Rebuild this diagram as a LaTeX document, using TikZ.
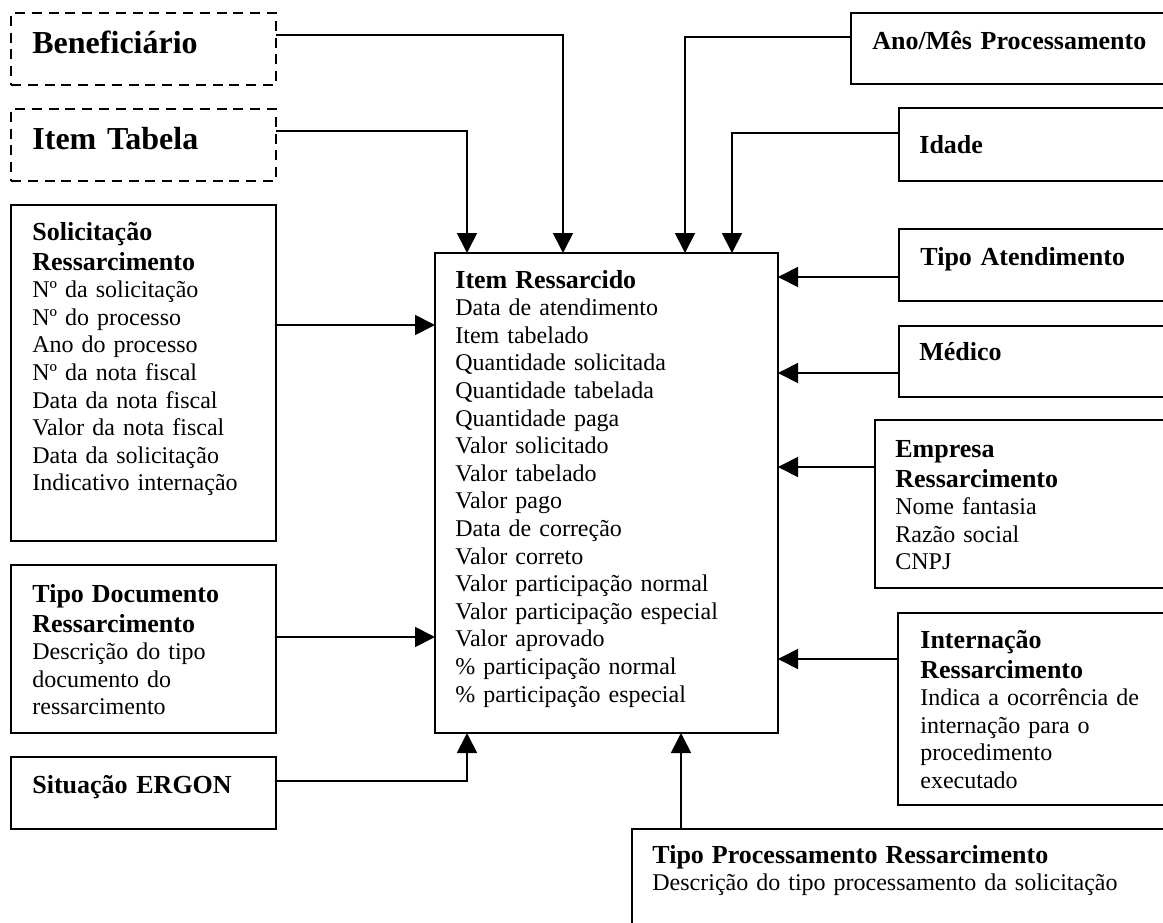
\documentclass[tikz,border=0pt]{standalone}
\usepackage{fontspec}
\setmainfont{Liberation Serif}
\usetikzlibrary{arrows.meta}

\newcommand\bodyfs{\fontsize{12}{13.8}\selectfont}
\newcommand\headfs{\fontsize{13}{15}\selectfont\bfseries}
\newcommand\bigheadfs{\fontsize{16}{18.4}\selectfont\bfseries}

\tikzset{
  box/.style={draw, line width=0.9pt, anchor=north west, inner sep=0pt, outer sep=0pt},
  dashbox/.style={box, dash pattern=on 5pt off 3.4pt},
  txt/.style={anchor=base west, inner sep=0pt, text width=320pt, align=left, font=\bodyfs},
  conn/.style={line width=0.9pt, -{Triangle[length=10pt,width=10pt]}}
}

\begin{document}
\begin{tikzpicture}[x=0.5pt,y=-0.5pt]
\useasboundingbox (0,0) rectangle (1163,922);
\clip (0,0) rectangle (1163,922);

% boxes on the left
\node[dashbox, minimum width=132.5pt, minimum height=36pt] (benef) at (11,13) {};
\node[dashbox, minimum width=132.5pt, minimum height=36pt] (itemtab) at (11,109) {};
\node[box, minimum width=132.5pt, minimum height=168pt] (solic) at (11,205) {};
\node[box, minimum width=132.5pt, minimum height=84pt] (tipodoc) at (11,565) {};
\node[box, minimum width=132.5pt, minimum height=36pt] (situacao) at (11,757) {};

% central entity
\node[box, minimum width=171.5pt, minimum height=240pt] (main) at (435,253) {};

% boxes on the right
\node[box, minimum width=200pt, minimum height=35.5pt] (anomes) at (851,13) {};
\node[box, minimum width=200pt, minimum height=36.5pt] (idade) at (899,108) {};
\node[box, minimum width=200pt, minimum height=36pt] (tipoat) at (899,229) {};
\node[box, minimum width=200pt, minimum height=35.5pt] (medico) at (899,326) {};
\node[box, minimum width=200pt, minimum height=84pt] (empresa) at (875,420) {};
\node[box, minimum width=200pt, minimum height=96pt] (intern) at (898,613) {};
\node[box, minimum width=300pt, minimum height=100pt] (tipoproc) at (632,829) {};

% texts
\node[txt, font=\bigheadfs] (benef-t) at (32,53) {Beneficiário};
\node[txt, font=\bigheadfs] (itemtab-t) at (32,149) {Item Tabela};
\node[txt] (solic-t) at (32,240) {{\headfs Solicitação\par Ressarcimento\par}
  Nº da solicitação\par Nº do processo\par Ano do processo\par Nº da nota fiscal\par
  Data da nota fiscal\par Valor da nota fiscal\par Data da solicitação\par Indicativo internação\par};
\node[txt] (tipodoc-t) at (32,602) {{\headfs Tipo Documento\par Ressarcimento\par}
  Descrição do tipo\par documento do\par ressarcimento\par};
\node[txt, font=\headfs] (situacao-t) at (32,793) {Situação ERGON};

\node[txt] (main-t) at (455,288) {{\headfs Item Ressarcido\par}
  Data de atendimento\par Item tabelado\par Quantidade solicitada\par Quantidade tabelada\par
  Quantidade paga\par Valor solicitado\par Valor tabelado\par Valor pago\par
  Data de correção\par Valor correto\par Valor participação normal\par
  Valor participação especial\par Valor aprovado\par \% participação normal\par
  \% participação especial\par};

\node[txt, font=\headfs] (anomes-t) at (872,49) {Ano/Mês Processamento};
\node[txt, font=\headfs] (idade-t) at (919,153) {Idade};
\node[txt, font=\headfs] (tipoat-t) at (920,265) {Tipo Atendimento};
\node[txt, font=\headfs] (medico-t) at (919,360) {Médico};
\node[txt] (empresa-t) at (895,457) {{\headfs Empresa\par Ressarcimento\par}
  Nome fantasia\par Razão social\par CNPJ\par};
\node[txt] (intern-t) at (920,648) {{\headfs Internação\par Ressarcimento\par}
  Indica a ocorrência de\par internação para o\par procedimento\par executado\par};
\node[txt] (tipoproc-t) at (652,863) {{\headfs Tipo Processamento Ressarcimento\par}
  Descrição do tipo processamento da solicitação\par};

% connectors
\draw[conn] (benef.east |- 0,35) -| (main.north -| 563,0);
\draw[conn] (itemtab.east |- 0,131) -| (main.north -| 467,0);
\draw[conn] (anomes.west |- 0,37) -| (main.north -| 685,0);
\draw[conn] (idade.west |- 0,133) -| (main.north -| 732,0);
\draw[conn] (tipoat.west |- 0,277) -- (main.east |- 0,277);
\draw[conn] (medico.west |- 0,373) -- (main.east |- 0,373);
\draw[conn] (empresa.west |- 0,467) -- (main.east |- 0,467);
\draw[conn] (intern.west |- 0,659) -- (main.east |- 0,659);
\draw[conn] (solic.east |- 0,325) -- (main.west |- 0,325);
\draw[conn] (tipodoc.east |- 0,637) -- (main.west |- 0,637);
\draw[conn] (situacao.east |- 0,781) -| (main.south -| 467,0);
\draw[conn] (tipoproc.north -| 681,0) -- (main.south -| 681,0);
\end{tikzpicture}
\end{document}
